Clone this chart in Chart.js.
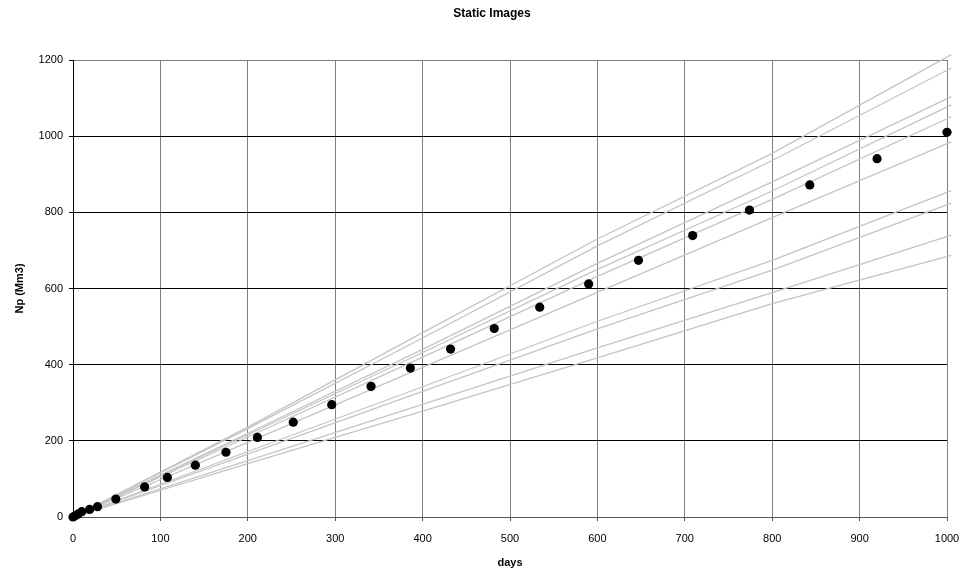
<!DOCTYPE html>
<html>
<head>
<meta charset="utf-8">
<script src="https://cdn.jsdelivr.net/npm/chart.js@4/dist/chart.umd.min.js"></script>
<style>
  html, body { margin: 0; padding: 0; background: #fff; }
  #wrap { width: 965px; height: 578px; position: relative; }
</style>
</head>
<body>
<div id="wrap"><canvas id="c" width="965" height="578"></canvas></div>
<script>
// ---- data ----
const chartTitle = "Static Images";
const xTitle = "days";
const yTitle = "Np (Mm3)";

// measured points (days, Np)
const pointDays = [0, 3, 6, 10, 19, 28, 49, 82, 108, 140, 175, 211, 252, 296, 341, 386, 432, 482, 534, 590, 647, 709, 774, 843, 920, 1000];
const pointNp   = [0, 4, 8, 14, 20, 27, 47, 79, 104, 136, 170, 209, 249, 295, 343, 391, 441, 495, 551, 612, 674, 739, 806, 872, 941, 1010];

// grey model curves, sampled at these days
const curveDays = [0, 200, 400, 600, 800, 1005];
const curve1  = [0, 236, 484, 730, 955, 1214];
const curve2  = [0, 232, 470, 712, 936, 1179];
const curve3  = [0, 220, 440, 666, 880, 1104];
const curve4  = [0, 216, 432, 650, 856, 1082];
const curve5  = [0, 210, 420, 632, 834, 1051];
const curve6  = [0, 196, 393, 590, 786, 985];
const curve7  = [0, 172, 342, 514, 674, 857];
const curve8  = [0, 165, 330, 494, 648, 824];
const curve9  = [0, 148, 296, 444, 589, 740];
const curve10 = [0, 140, 278, 418, 560, 687];
const curves = [curve1, curve2, curve3, curve4, curve5, curve6, curve7, curve8, curve9, curve10];

const xTicks = [0, 100, 200, 300, 400, 500, 600, 700, 800, 900, 1000];
const yTicks = [0, 200, 400, 600, 800, 1000, 1200];

// ---- build datasets ----
const zip = (xs, ys) => xs.map((x, i) => ({ x: x, y: ys[i] }));

const datasets = [{
  label: 'points',
  data: zip(pointDays, pointNp),
  showLine: false,
  pointRadius: 4.6,
  pointHoverRadius: 4.6,
  pointBackgroundColor: '#000',
  pointBorderColor: '#000',
  pointBorderWidth: 0,
  clip: false,
  order: 0
}];
curves.forEach((c, i) => {
  datasets.push({
    label: 'curve' + (i + 1),
    data: zip(curveDays, c),
    showLine: true,
    borderColor: '#c4c4c4',
    borderWidth: 1.3,
    pointRadius: 0,
    tension: 0,
    clip: false,
    order: 1
  });
});

const FONT = "'Liberation Sans', Arial, sans-serif";

const titlePlugin = {
  id: 'fixedTitle',
  afterDraw(chart) {
    const ctx = chart.ctx;
    ctx.save();
    ctx.font = "bold 12px " + FONT;
    ctx.fillStyle = '#000';
    ctx.textAlign = 'center';
    ctx.textBaseline = 'middle';
    ctx.fillText(chartTitle, 492, 14);
    ctx.restore();
  }
};

new Chart(document.getElementById('c'), {
  type: 'scatter',
  data: { datasets: datasets },
  plugins: [titlePlugin],
  options: {
    responsive: false,
    animation: false,
    events: [],
    layout: { padding: { left: 0, right: 18, top: 60, bottom: 0 } },
    plugins: {
      legend: { display: false },
      title: { display: false },
      tooltip: { enabled: false }
    },
    scales: {
      x: {
        type: 'linear',
        min: 0, max: 1000,
        afterBuildTicks: s => { s.ticks = xTicks.map(v => ({ value: v })); },
        afterFit: s => { s.height = 61; s.paddingLeft = 0; s.paddingRight = 0; },
        ticks: { color: '#000', font: { family: FONT, size: 11 }, padding: 11, maxRotation: 0,
                 callback: v => String(v) },
        grid: {
          color: '#808080',
          lineWidth: 1,
          tickLength: 4,
          tickColor: '#555'
        },
        border: { color: '#555', width: 1 },
        title: {
          display: true, text: xTitle, color: '#000',
          font: { family: FONT, size: 11, weight: 'bold' },
          padding: { top: 4, bottom: 8 }
        }
      },
      y: {
        type: 'linear',
        min: 0, max: 1200,
        afterBuildTicks: s => { s.ticks = yTicks.map(v => ({ value: v })); },
        afterFit: s => { s.width = 73; },
        ticks: { color: '#000', font: { family: FONT, size: 11 }, padding: 6,
                 callback: v => String(v) },
        grid: {
          color: c => (c.tick && (c.tick.value === 1200)) ? '#808080' : (c.tick && c.tick.value === 0 ? '#555' : '#000'),
          lineWidth: 1,
          tickLength: 4,
          tickColor: '#000'
        },
        border: { color: '#000', width: 1 },
        title: {
          display: true, text: yTitle, color: '#000',
          font: { family: FONT, size: 11, weight: 'bold' },
          padding: { top: 13, bottom: 4 }
        }
      }
    }
  }
});
</script>
</body>
</html>
